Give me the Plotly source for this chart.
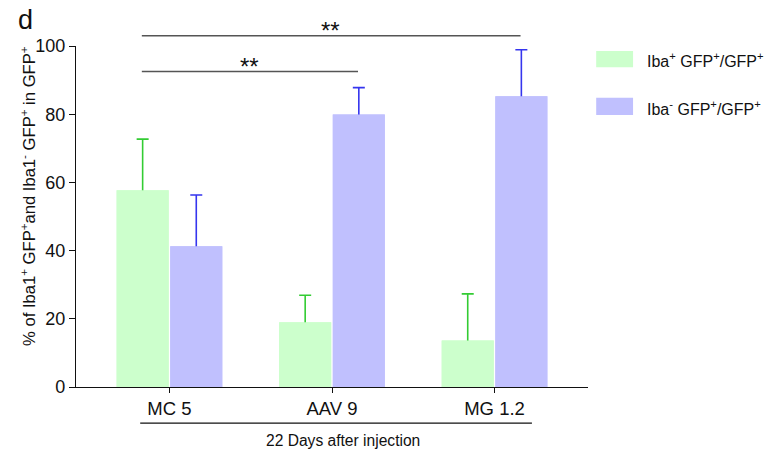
import plotly.graph_objects as go

categories = ["MC 5", "AAV 9", "MG 1.2"]
iba_pos = [57.7, 19.0, 13.6]
iba_pos_err = [15.0, 7.9, 13.7]
iba_neg = [41.3, 79.9, 85.3]
iba_neg_err = [15.0, 7.9, 13.6]
series_names = ["Iba<sup>+</sup> GFP<sup>+</sup>/GFP<sup>+</sup>",
                "Iba<sup>-</sup> GFP<sup>+</sup>/GFP<sup>+</sup>"]
y_ticks = [0, 20, 40, 60, 80, 100]

GREEN_FILL = "#ccffcc"
BLUE_FILL = "#c0c0fe"
GREEN_ERR = "#33cc33"
BLUE_ERR = "#3535ee"
FONT = "Liberation Sans, Arial, sans-serif"

fig = go.Figure()
# bars carrying the upward error bars
for vals, errs, fill, ecol, grp in [(iba_pos, iba_pos_err, GREEN_FILL, GREEN_ERR, "a"),
                                     (iba_neg, iba_neg_err, BLUE_FILL, BLUE_ERR, "b")]:
    fig.add_trace(go.Bar(
        x=categories, y=vals, offsetgroup=grp, marker_color=fill,
        marker_line_width=0, showlegend=False, hoverinfo="skip",
        error_y=dict(type="data", symmetric=False, array=errs,
                     arrayminus=[v / 2 for v in vals],
                     color=ecol, thickness=1.6, width=6),
    ))
# covering bars (hide lower part of error bars)
for vals, fill, grp, name in [(iba_pos, GREEN_FILL, "a", series_names[0]),
                              (iba_neg, BLUE_FILL, "b", series_names[1])]:
    fig.add_trace(go.Bar(
        x=categories, y=vals, offsetgroup=grp, marker_color=fill,
        marker_line_width=0, name=name, showlegend=False,
    ))

x_range = [-0.575, 2.575]

def px(idx):
    return (idx - x_range[0]) / (x_range[1] - x_range[0])

shapes = []
annotations = []
# significance brackets
for x0, x1, yl, xt, yt in [(-0.17, 1.16, 0.925, 0.49, 0.939), (-0.17, 2.16, 1.030, 0.99, 1.045)]:
    shapes.append(dict(type="line", xref="paper", yref="paper",
                       x0=px(x0), x1=px(x1), y0=yl, y1=yl,
                       line=dict(color="#555555", width=1.5)))
    annotations.append(dict(text="**", x=px(xt), y=yt, xref="paper", yref="paper",
                            xanchor="center", yanchor="middle", showarrow=False,
                            font=dict(size=24, color="#111", family=FONT)))

# bottom grouping line and label
shapes.append(dict(type="line", xref="paper", yref="paper", x0=px(-0.18), x1=px(2.23),
                   y0=-0.106, y1=-0.106, line=dict(color="#111", width=1.3)))
annotations.append(dict(text="22 Days after injection", x=px(1.065), y=-0.158,
                        xref="paper", yref="paper", xanchor="center", yanchor="middle",
                        showarrow=False,
                        font=dict(size=15.6, color="#111", family=FONT)))

# legend drawn manually
for k, (fill, yy0, yy1, ty) in enumerate([(GREEN_FILL, 0.938, 0.985, 0.959),
                                           (BLUE_FILL, 0.798, 0.848, 0.818)]):
    shapes.append(dict(type="rect", xref="paper", yref="paper", x0=1.016, x1=1.088,
                       y0=yy0, y1=yy1, fillcolor=fill, line=dict(width=0)))
    annotations.append(dict(text=series_names[k], x=1.111, y=ty, xref="paper", yref="paper",
                            xanchor="left", yanchor="middle", showarrow=False,
                            font=dict(size=16, color="#111", family=FONT)))

# y axis title and panel letter
annotations.append(dict(text="% of Iba1<sup>+</sup> GFP<sup>+</sup>and Iba1<sup>-</sup> GFP<sup>+</sup> in GFP<sup>+</sup>",
                        x=-0.094, y=0.56, xref="paper", yref="paper", textangle=-90,
                        xanchor="center", yanchor="middle",
                        showarrow=False, font=dict(size=16.6, color="#111", family=FONT)))
annotations.append(dict(text="d", x=-0.118, y=1.075, xref="paper", yref="paper",
                        xanchor="left", yanchor="middle", showarrow=False,
                        font=dict(size=27, color="#111", family=FONT)))

fig.update_layout(
    width=769, height=443,
    margin=dict(l=68, r=189, t=38, b=64),
    plot_bgcolor="white", paper_bgcolor="white",
    barmode="group", bargap=0.34, bargroupgap=0.03,
    font=dict(family=FONT, color="#111"),
    shapes=shapes, annotations=annotations,
    xaxis=dict(range=x_range, showline=True, linecolor="#111", linewidth=1.3,
               ticks="outside", ticklen=5, tickcolor="#111", tickwidth=1.2,
               tickfont=dict(size=18.5, family=FONT, color="#111"), showgrid=False),
    yaxis=dict(range=[0, 100], tickvals=y_ticks, showline=True, linecolor="#111",
               linewidth=1.3, ticks="outside", ticklen=6, tickcolor="#111", tickwidth=1.2,
               tickfont=dict(size=18, family=FONT, color="#111"), showgrid=False,
               zeroline=False),
)

fig.write_html("out.html")
